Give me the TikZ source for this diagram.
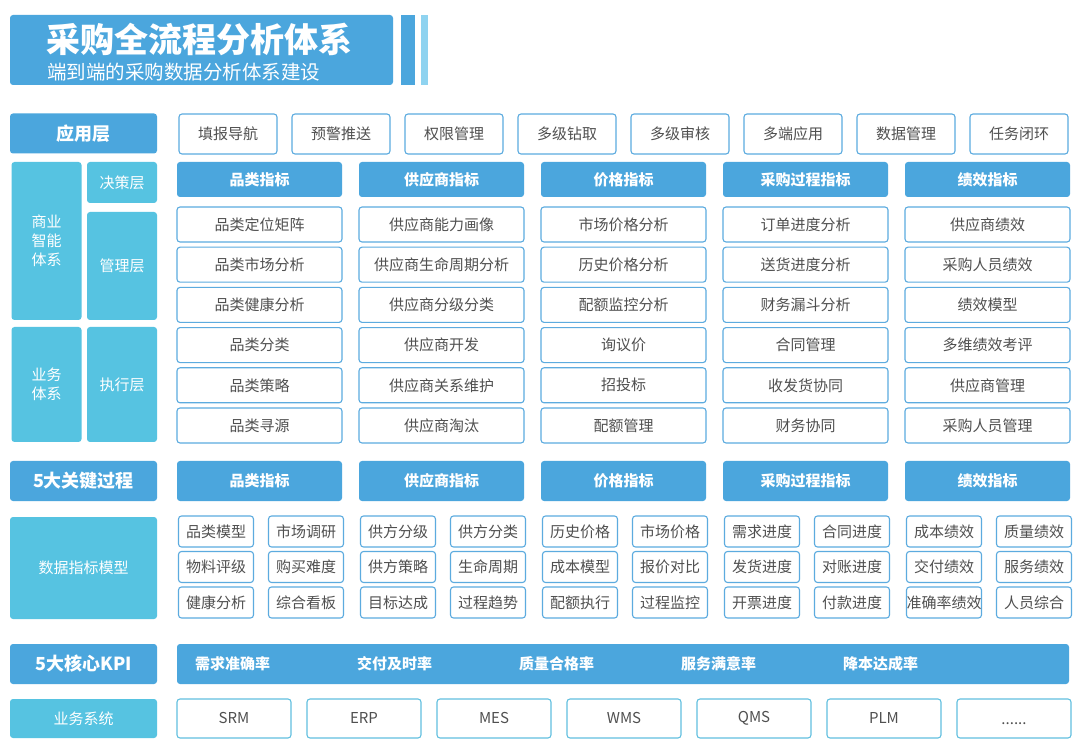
\documentclass[tikz,border=0pt]{standalone}
\usepackage{fontspec}
\setmainfont{Noto Sans CJK SC}
\usetikzlibrary{positioning, calc}

\definecolor{deepblue}{HTML}{4BA6DD}
\definecolor{lightcyan}{HTML}{56C3E1}
\definecolor{paleblue}{HTML}{8FD3F0}
\definecolor{boxline}{HTML}{5CABDF}
\definecolor{sysline}{HTML}{62C0DF}
\definecolor{textgray}{HTML}{505050}

\begin{document}
\begin{tikzpicture}[x=1pt, y=-1pt,
                font=\fontsize{15}{19}\selectfont,
                box/.style={rounded corners=3pt, align=center, inner sep=0pt, minimum height=35pt},
                head/.style={box, fill=deepblue, text=white, font=\fontsize{15}{19}\selectfont\bfseries},
                bighead/.style={head, minimum width=147pt, minimum height=40pt, font=\fontsize{18}{21}\selectfont\bfseries},
                side/.style={box, fill=lightcyan, text=white, minimum width=70pt},
                item/.style={box, draw=boxline, line width=1.1pt, fill=white, text=textgray},
                sub/.style={item, minimum width=75pt, minimum height=31pt},
                kpitext/.style={anchor=west, inner sep=0pt, text=white, font=\fontsize{15}{19}\selectfont\bfseries}]

    \fill[white] (0,0) rectangle (1080,751);
    \useasboundingbox (0,0) rectangle (1080,751);

    %%% TITLE
    \node [head, minimum width=383pt, minimum height=70pt] (titlebox) at (201.5,50) {};
    \node [anchor=west, inner sep=0pt, text=white, font=\fontsize{34}{36}\selectfont\bfseries] (title) at (46,39.5) {采购全流程分析体系};
    \node [anchor=west, inner sep=0pt, text=white, font=\fontsize{19.5}{22}\selectfont] (subtitle) at (47,72) {端到端的采购数据分析体系建设};
    \node [fill=deepblue, inner sep=0pt, minimum width=14pt, minimum height=70pt] (bardark) at (408,50) {};
    \node [fill=paleblue, inner sep=0pt, minimum width=7pt, minimum height=70pt] (barlight) at (424.5,50) {};

    %%% APPLICATION LAYER
    \node [bighead] (yingyong) at (83.5,133.5) {应用层};
    \foreach \t [count=\i from 0] in {填报导航,预警推送,权限管理,多级钻取,多级审核,多端应用,数据管理,任务闭环}
        \node [item, minimum width=98pt, minimum height=40pt] (app\i) at (228+113*\i,134) {\t};

    %%% LEFT BLOCKS
    \node [side, minimum height=158pt] (shangye) at (46.5,241) {商业\\智能\\体系};
    \node [side, minimum height=41pt] (juece) at (122,182.5) {决策层};
    \node [side, minimum height=108pt] (guanli) at (122,266) {管理层};
    \node [side, minimum height=115pt] (yewu) at (46.5,384.5) {业务\\体系};
    \node [side, minimum height=115pt] (zhixing) at (122,384.5) {执行层};
    \node [bighead] (guocheng) at (83.5,481) {5大关键过程};
    \node [side, minimum width=147pt, minimum height=102pt] (moxing) at (83.5,568) {数据指标模型};

    %%% INDICATOR COLUMNS
    \foreach \h/\a/\b/\c/\d/\e/\f [count=\i from 0] in {
        品类指标/品类定位矩阵/品类市场分析/品类健康分析/品类分类/品类策略/品类寻源,
        供应商指标/供应商能力画像/供应商生命周期分析/供应商分级分类/供应商开发/供应商关系维护/供应商淘汰,
        价格指标/市场价格分析/历史价格分析/配额监控分析/询议价/招投标/配额管理,
        采购过程指标/订单进度分析/送货进度分析/财务漏斗分析/合同管理/收发货协同/财务协同,
        绩效指标/供应商绩效/采购人员绩效/绩效模型/多维绩效考评/供应商管理/采购人员管理}{
        \node [head, minimum width=165pt] (zhibiao\i) at (259.5+182*\i,179.5) {\h};
        \foreach \t [count=\j from 0] in {\a,\b,\c,\d,\e,\f}
            \node [item, minimum width=165pt] (zhibiao\i-\j) at (259.5+182*\i,224.5+40.2*\j) {\t};
        \node [head, minimum width=165pt, minimum height=40pt] (guocheng\i) at (259.5+182*\i,481) {\h};
    }

    %%% DATA MODELS
    \foreach \a/\b/\c/\d/\e/\f [count=\i from 0] in {
        品类模型/市场调研/物料评级/购买难度/健康分析/综合看板,
        供方分级/供方分类/供方策略/生命周期/目标达成/过程趋势,
        历史价格/市场价格/成本模型/报价对比/配额执行/过程监控,
        需求进度/合同进度/发货进度/对账进度/开票进度/付款进度,
        成本绩效/质量绩效/交付绩效/服务绩效/准确率绩效/人员综合}{
        \foreach \t [count=\j from 0] in {\a,\c,\e}
            \node [sub] (moxing\i-l\j) at (216+182*\i,531.5+35.5*\j) {\t};
        \foreach \t [count=\j from 0] in {\b,\d,\f}
            \node [sub] (moxing\i-r\j) at (306+182*\i,531.5+35.5*\j) {\t};
    }

    %%% KPI
    \node [bighead] (hexin) at (83.5,664) {5大核心KPI};
    \node [head, minimum width=892pt, minimum height=40pt] (kpibar) at (623,664) {};
    \foreach \t [count=\i from 0] in {需求准确率,交付及时率,质量合格率,服务满意率,降本达成率}
        \node [kpitext] (kpi\i) at ($(kpibar.west)+(18+162*\i,0)$) {\t};

    %%% SYSTEMS
    \node [side, minimum width=147pt, minimum height=39pt] (xitong) at (83.5,718.5) {业务系统};
    \foreach \t [count=\i from 0] in {SRM,ERP,MES,WMS,QMS,PLM}
        \node [item, draw=sysline, minimum width=114pt, minimum height=39pt] (sys\i) at (234+130*\i,718.5) {\t};
    \node [item, draw=sysline, minimum width=114pt, minimum height=39pt] (sys6) at (1014,718.5) {};
    \node [anchor=base, inner sep=0pt, text=textgray] (dots) at ($(sys6.center)+(0,6)$) {......};

\end{tikzpicture}
\end{document}
